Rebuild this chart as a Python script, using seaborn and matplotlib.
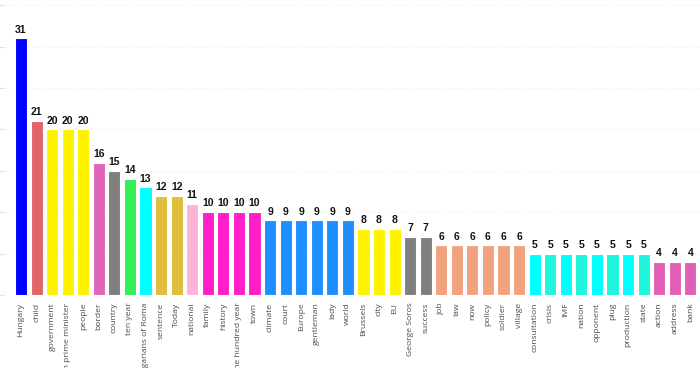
import matplotlib
matplotlib.use("Agg")
import matplotlib.pyplot as plt
import numpy as np
import pandas as pd
import seaborn as sns

words = ["Hungary", "child", "government", "Hungarian prime minister", "people",
         "border", "country", "ten year", "Hungarians of Roma", "sentence", "Today",
         "national", "family", "history", "one hundred year", "town", "climate",
         "court", "Europe", "gentleman", "lady", "world", "Brussels", "city", "EU",
         "George Soros", "success", "job", "law", "now", "policy", "soldier",
         "village", "consultation", "crisis", "IMF", "nation", "opponent", "plug",
         "production", "state", "action", "address", "bank"]
counts = [31, 21, 20, 20, 20, 16, 15, 14, 13, 12, 12, 11, 10, 10, 10, 10,
          9, 9, 9, 9, 9, 9, 8, 8, 8, 7, 7, 6, 6, 6, 6, 6, 6,
          5, 5, 5, 5, 5, 5, 5, 5, 4, 4, 4]
bar_colors = ["#0000ff", "#e06468", "#fff200", "#fff200", "#fff200",
              "#e065b9", "#7f7f7f", "#33ee55", "#00ffff", "#e0bd3c", "#e0bd3c",
              "#ffb3d9", "#ff1ec8", "#ff1ec8", "#ff1ec8", "#ff1ec8",
              "#1e8fff", "#1e8fff", "#1e8fff", "#1e8fff", "#1e8fff", "#1e8fff",
              "#fff200", "#fff200", "#fff200", "#7f7f7f", "#7f7f7f",
              "#f2a27e", "#f2a27e", "#f2a27e", "#f2a27e", "#f2a27e", "#f2a27e",
              "#00ffff", "#1ef5dc", "#00ffff", "#1ef5dc", "#00ffff", "#1ef5dc",
              "#00ffff", "#1ef5dc", "#e060b8", "#e060b8", "#e060b8"]

df = pd.DataFrame({"word": words, "count": counts})

sns.set_style("white")
fig = plt.figure(figsize=(7, 3.68), dpi=100)
ax = fig.add_axes([0.0, 73 / 368, 1.0, 295 / 368])

sns.barplot(data=df, x="word", y="count", hue="word", palette=bar_colors,
            legend=False, width=0.78, edgecolor="white", linewidth=0.8,
            saturation=1, ax=ax)

for i, v in enumerate(counts):
    ax.text(i, v + 0.45, str(v), ha="center", va="bottom", fontsize=7.5,
            fontweight="bold", family="Liberation Sans", color="#111111")

ax.set_xlim(-1.35, 43.62)
ax.set_ylim(0, 295 / 8.28)
ax.set_yticks(np.arange(0, 36, 5))
ax.set_yticklabels([])
ax.tick_params(axis="y", left=True, length=3, width=0.8, color="#dddddd", direction="in")
ax.tick_params(axis="x", bottom=False, pad=2)
ax.grid(axis="y", color="#f0f0f0", linestyle=":", linewidth=0.8)
ax.set_axisbelow(True)
for lab in ax.get_xticklabels():
    lab.set_rotation(90)
    lab.set_fontsize(6.1)
    lab.set_family("Open Sans")
    lab.set_color("#4a4a4a")
for s in ax.spines.values():
    s.set_visible(False)
ax.set_xlabel("")
ax.set_ylabel("")

fig.savefig("out.png", dpi=100)
